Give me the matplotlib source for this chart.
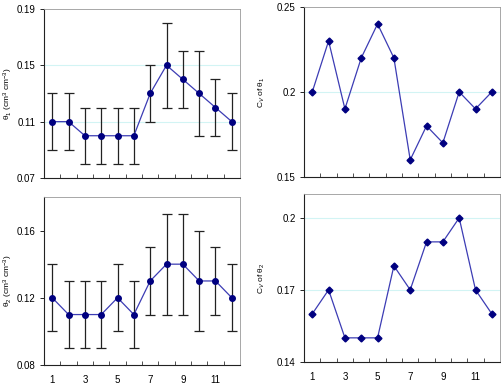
import numpy as np
import matplotlib
matplotlib.use('Agg')
import matplotlib.pyplot as plt
from matplotlib.ticker import FixedLocator

plt.rcParams['font.family'] = ['Liberation Sans', 'DejaVu Sans']
plt.rcParams['mathtext.fontset'] = 'custom'
plt.rcParams['mathtext.rm'] = 'Liberation Sans'
plt.rcParams['mathtext.it'] = 'Liberation Sans:italic'

# months / sampling dates
x = np.arange(1, 13)
xlabels = ['1', '3', '5', '7', '9', '11']

# mean soil water content and std for layer 1 and 2
theta1 = [0.11, 0.11, 0.10, 0.10, 0.10, 0.10, 0.13, 0.15, 0.14, 0.13, 0.12, 0.11]
theta1_err = [0.02, 0.02, 0.02, 0.02, 0.02, 0.02, 0.02, 0.03, 0.02, 0.03, 0.02, 0.02]
theta2 = [0.12, 0.11, 0.11, 0.11, 0.12, 0.11, 0.13, 0.14, 0.14, 0.13, 0.13, 0.12]
theta2_err = [0.02, 0.02, 0.02, 0.02, 0.02, 0.02, 0.02, 0.03, 0.03, 0.03, 0.02, 0.02]

# coefficient of variation
cv1 = [0.20, 0.23, 0.19, 0.22, 0.24, 0.22, 0.16, 0.18, 0.17, 0.20, 0.19, 0.20]
cv2 = [0.16, 0.17, 0.15, 0.15, 0.15, 0.18, 0.17, 0.19, 0.19, 0.20, 0.17, 0.16]

line_c = '#3c3cb4'
mark_c = '#000080'
grid_c = '#d2f4f4'

fig = plt.figure(figsize=(5.01, 3.87), dpi=100)
ax1 = fig.add_axes([0.088, 0.540, 0.391, 0.437])
ax2 = fig.add_axes([0.607, 0.543, 0.391, 0.439])
ax3 = fig.add_axes([0.088, 0.057, 0.391, 0.434])
ax4 = fig.add_axes([0.607, 0.065, 0.391, 0.434])


def style(ax, yticks, ylim, ylabel, grid, show_x, labx):
    ax.set_xlim(0.5, 12.5)
    ax.set_ylim(*ylim)
    ax.set_yticks(yticks)
    ax.set_yticklabels(['%g' % t for t in yticks])
    for g in grid:
        ax.axhline(g, color=grid_c, lw=0.8, zorder=0)
    ax.xaxis.set_minor_locator(FixedLocator(np.arange(1.5, 12, 1)))
    ax.tick_params(axis='x', which='minor', direction='in', length=3, width=0.6, color='#333333')
    if show_x:
        ax.set_xticks([1, 3, 5, 7, 9, 11])
        ax.set_xticklabels(xlabels)
    else:
        ax.set_xticks([])
    ax.tick_params(axis='x', which='major', length=0, labelsize=7, pad=7)
    ax.tick_params(axis='y', direction='out', length=3, width=0.6, labelsize=7, pad=3)
    ax.set_ylabel(ylabel, fontsize=6)
    ax.yaxis.set_label_coords(labx, 0.5)
    for s in ['top', 'right']:
        ax.spines[s].set_color('#999999')
        ax.spines[s].set_linewidth(0.6)
    for s in ['left', 'bottom']:
        ax.spines[s].set_color('#222222')
        ax.spines[s].set_linewidth(0.8)


# panel a: theta1
ax1.errorbar(x, theta1, yerr=theta1_err, color=line_c, lw=0.9, marker='o', ms=4,
             mfc=mark_c, mec=mark_c, ecolor='#222222', elinewidth=0.9, capsize=3.5, capthick=0.9)
style(ax1, [0.07, 0.11, 0.15, 0.19], (0.07, 0.19), 'θ$_1$ (cm$^3$ cm$^{-3}$)', [0.11, 0.15], False, -0.15)

# panel b: cv of theta1
ax2.plot(x, cv1, color=line_c, lw=0.9, marker='D', ms=3.5, mfc=mark_c, mec=mark_c)
style(ax2, [0.15, 0.2, 0.25], (0.15, 0.25), 'C$_V$ of θ$_1$', [0.2], False, -0.19)

# panel c: theta2
ax3.errorbar(x, theta2, yerr=theta2_err, color=line_c, lw=0.9, marker='o', ms=4,
             mfc=mark_c, mec=mark_c, ecolor='#222222', elinewidth=0.9, capsize=3.5, capthick=0.9)
style(ax3, [0.08, 0.12, 0.16], (0.08, 0.18), 'θ$_2$ (cm$^3$ cm$^{-3}$)', [], True, -0.15)

# panel d: cv of theta2
ax4.plot(x, cv2, color=line_c, lw=0.9, marker='D', ms=3.5, mfc=mark_c, mec=mark_c)
style(ax4, [0.14, 0.17, 0.2], (0.14, 0.21), 'C$_V$ of θ$_2$', [0.17, 0.2], True, -0.19)

fig.savefig('out.png', dpi=100)
